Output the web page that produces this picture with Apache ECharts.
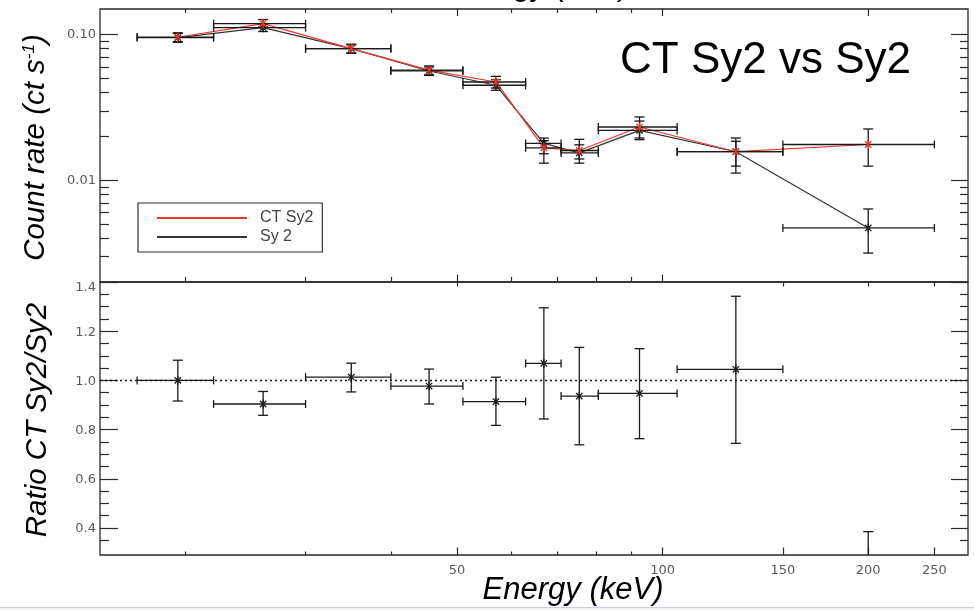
<!DOCTYPE html>
<html><head><meta charset="utf-8">
<script src="https://cdn.jsdelivr.net/npm/echarts@6/dist/echarts.min.js"></script>
<style>html,body{margin:0;padding:0;background:#fff}#c{width:974px;height:610px}</style>
</head><body><div id="c"></div>
<script>
// ---------------- data ----------------
const energy  = [19.5, 26, 35, 45.5, 57, 67, 75.5, 92.5, 128, 200];
const binLo   = [17, 22, 30, 40, 51, 63, 71, 80.5, 105, 150];
const binHi   = [22, 30, 40, 51, 63, 71, 80.5, 105, 150, 250];

const ctRate  = [0.0960, 0.119, 0.0802, 0.0570, 0.0473, 0.0167, 0.0160, 0.0232, 0.0157, 0.0176];
const ctLo    = [0.0895, 0.113, 0.0750, 0.0530, 0.0430, 0.0131, 0.0131, 0.0195, 0.0112, 0.0125];
const ctHi    = [0.1030, 0.127, 0.0860, 0.0610, 0.0517, 0.0195, 0.0191, 0.0272, 0.0195, 0.0225];

const sy2Rate = [0.0954, 0.1117, 0.0802, 0.0563, 0.0449, 0.0179, 0.0154, 0.0220, 0.0157, 0.0047];
const sy2Lo   = [0.0885, 0.105, 0.0745, 0.0525, 0.0415, 0.0152, 0.0140, 0.0190, 0.0125, 0.00316];
const sy2Hi   = [0.1020, 0.119, 0.0850, 0.0600, 0.0490, 0.0187, 0.0175, 0.0255, 0.0185, 0.00635];

const ratio   = [1.000, 0.904, 1.013, 0.977, 0.914, 1.069, 0.936, 0.947, 1.045, 0.20];
const ratioLo = [0.916, 0.858, 0.953, 0.904, 0.817, 0.843, 0.738, 0.763, 0.744, 0.02];
const ratioHi = [1.082, 0.955, 1.070, 1.046, 1.013, 1.295, 1.134, 1.129, 1.342, 0.385];
const unity = 1;

const xMin = 15, xMax = 280;
const xLabelTicks = [50, 100, 150, 200, 250];
const xMinorTicks = [20, 30, 40, 60, 70, 80, 90];
const xTopMajor = [50, 100, 200];
const xMidTicks = [50, 150, 200, 250];
const xUpMajor = [50, 100];

const rateMin = 0.002, rateMax = 0.15;
const rateLabels = [0.01, 0.1];
const rateMinor = [0.003, 0.004, 0.005, 0.006, 0.007, 0.008, 0.009, 0.02, 0.03, 0.04, 0.05, 0.06, 0.07, 0.08, 0.09];

const ratioMin = 0.29, ratioMax = 1.4;
const ratioLabels = [0.4, 0.6, 0.8, 1.0, 1.2, 1.4];
const ratioMinor = [0.35, 0.45, 0.5, 0.55, 0.65, 0.7, 0.75, 0.85, 0.9, 0.95, 1.05, 1.1, 1.15, 1.25, 1.3, 1.35];

const seriesNames = ['CT Sy2', 'Sy 2'];

// ---------------- helpers ----------------
const AX = '#2a2a2a';
const LBL = {color: '#5a5a5a', fontFamily: 'DejaVu Sans', fontSize: 13};

function xAx(grid, pos, ticks, len, extra) {
  return Object.assign({
    type: 'log', logBase: 10, gridIndex: grid, position: pos, min: xMin, max: xMax,
    axisLine: {show: false}, splitLine: {show: false},
    minorTick: {show: false}, minorSplitLine: {show: false},
    axisTick: {show: true, inside: true, length: len, customValues: ticks, lineStyle: {color: AX, width: 1.2}},
    axisLabel: {show: false}, axisPointer: {show: false}
  }, extra || {});
}
function yAx(grid, pos, type, min, max, ticks, len, extra) {
  const o = {
    type: type, gridIndex: grid, position: pos, min: min, max: max,
    axisLine: {show: false, onZero: false}, splitLine: {show: false},
    minorTick: {show: false}, minorSplitLine: {show: false},
    axisTick: {show: true, inside: true, length: len, customValues: ticks, lineStyle: {color: AX, width: 1.2}},
    axisLabel: {show: false}, axisPointer: {show: false}
  };
  if (type === 'log') o.logBase = 10;
  return Object.assign(o, extra || {});
}

function makeRender(starColor) {
  return function (params, api) {
    const x = api.value(0), xl = api.value(1), xh = api.value(2);
    const y = api.value(3), yl = api.value(4), yh = api.value(5);
    const cs = params.coordSys;
    const top = cs.y, bot = cs.y + cs.height;
    const p = api.coord([x, y]);
    const pl = api.coord([xl, y]), ph = api.coord([xh, y]);
    const pyl = api.coord([x, yl]), pyh = api.coord([x, yh]);
    const st = {stroke: '#1a1a1a', lineWidth: 1.3, fill: null};
    const ch = [];
    const L = (x1, y1, x2, y2, s) => ch.push({type: 'line', shape: {x1: x1, y1: y1, x2: x2, y2: y2}, style: s || st});
    const inY = v => v >= top - 0.5 && v <= bot + 0.5;
    const capY = 5, capX = 4;
    const yA = Math.max(top, Math.min(bot, pyh[1])), yB = Math.max(top, Math.min(bot, pyl[1]));
    if (yB > yA) L(p[0], yA, p[0], yB);
    if (inY(pyh[1])) L(p[0] - capY, pyh[1], p[0] + capY, pyh[1]);
    if (inY(pyl[1])) L(p[0] - capY, pyl[1], p[0] + capY, pyl[1]);
    if (inY(p[1])) {
      L(pl[0], p[1], ph[0], p[1]);
      L(pl[0], p[1] - capX, pl[0], p[1] + capX);
      L(ph[0], p[1] - capX, ph[0], p[1] + capX);
      const r = 4.5, d = r * 0.7071, s2 = {stroke: starColor, lineWidth: 1.3, fill: null};
      L(p[0] - d, p[1] - d, p[0] + d, p[1] + d, s2);
      L(p[0] - d, p[1] + d, p[0] + d, p[1] - d, s2);
      L(p[0], p[1] - r, p[0], p[1] + r, s2);
    }
    return {type: 'group', children: ch};
  };
}
const errData = (v, lo, hi) => energy.map((e, i) => [e, binLo[i], binHi[i], v[i], lo[i], hi[i]]);

const chart = echarts.init(document.getElementById('c'), null, {renderer: 'canvas'});
const base = {fontFamily: 'DejaVu Sans', fontSize: 13, color: '#5a5a5a'};

chart.setOption({
  animation: false,
  backgroundColor: '#fff',
  grid: [
    {left: 100, width: 868, top: 9, height: 273, show: true, borderColor: AX, borderWidth: 1.3, backgroundColor: 'transparent', containLabel: false, outerBoundsMode: 'none'},
    {left: 100, width: 868, top: 282, height: 273, show: true, borderColor: AX, borderWidth: 1.3, backgroundColor: 'transparent', containLabel: false, outerBoundsMode: 'none'}
  ],
  xAxis: [
    xAx(0, 'bottom', xMinorTicks, 5),
    xAx(0, 'bottom', xUpMajor, 7.5),
    xAx(0, 'top', xMinorTicks, 4),
    xAx(0, 'top', xTopMajor, 7),
    xAx(1, 'top', xMidTicks, 4.5),
    xAx(1, 'bottom', xMinorTicks, 3.5),
    xAx(1, 'bottom', xLabelTicks, 7.5, {
      axisLabel: {show: true, customValues: xLabelTicks, margin: 9, color: LBL.color, fontFamily: LBL.fontFamily, fontSize: 13,
        formatter: v => String(Math.round(v))}
    })
  ],
  yAxis: [
    yAx(0, 'left', 'log', rateMin, rateMax, rateLabels, 18, {
      axisLabel: {show: true, customValues: rateLabels, margin: 4, color: LBL.color, fontFamily: LBL.fontFamily, fontSize: 13,
        formatter: v => v.toFixed(2)}
    }),
    yAx(0, 'left', 'log', rateMin, rateMax, rateMinor, 9),
    yAx(0, 'right', 'log', rateMin, rateMax, rateLabels, 17),
    yAx(0, 'right', 'log', rateMin, rateMax, rateMinor, 8),
    yAx(1, 'left', 'value', ratioMin, ratioMax, ratioLabels, 18, {
      axisLabel: {show: true, customValues: ratioLabels, margin: 4,
        formatter: v => Math.abs(v - ratioMax) < 1e-9 ? '{t|' + v.toFixed(1) + '}' : '{n|' + v.toFixed(1) + '}',
        rich: {t: Object.assign({padding: [11, 0, 0, 0]}, base), n: Object.assign({padding: [2, 0, 0, 0]}, base)}}
    }),
    yAx(1, 'left', 'value', ratioMin, ratioMax, ratioMinor, 9),
    yAx(1, 'right', 'value', ratioMin, ratioMax, ratioLabels, 17),
    yAx(1, 'right', 'value', ratioMin, ratioMax, ratioMinor, 8)
  ],
  legend: {
    data: seriesNames, orient: 'vertical', left: 138, top: 203,
    itemWidth: 90, itemHeight: 2, itemGap: 3, icon: 'rect',
    padding: [7, 9, 7, 19], borderColor: '#333', borderWidth: 1.2, borderRadius: 0,
    backgroundColor: 'transparent', selectedMode: false,
    textStyle: {fontFamily: 'Liberation Sans', fontSize: 16, color: '#444', lineHeight: 16, padding: [0, 0, 0, 8]}
  },
  series: [
    {name: seriesNames[1], type: 'line', xAxisIndex: 0, yAxisIndex: 0, symbol: 'none', z: 2,
      data: energy.map((e, i) => [e, sy2Rate[i]]),
      lineStyle: {color: '#333', width: 1.2}, itemStyle: {color: '#333'}},
    {name: seriesNames[0], type: 'line', xAxisIndex: 0, yAxisIndex: 0, symbol: 'none', z: 3,
      data: energy.map((e, i) => [e, ctRate[i]]),
      lineStyle: {color: '#f0352c', width: 1.2}, itemStyle: {color: '#f0352c'}},
    {name: 'Sy 2 errors', type: 'custom', xAxisIndex: 0, yAxisIndex: 0, z: 4,
      renderItem: makeRender('#1a1a1a'), encode: {x: [0, 1, 2], y: [3, 4, 5]},
      data: errData(sy2Rate, sy2Lo, sy2Hi)},
    {name: 'CT Sy2 errors', type: 'custom', xAxisIndex: 0, yAxisIndex: 0, z: 5,
      renderItem: makeRender('#f0352c'), encode: {x: [0, 1, 2], y: [3, 4, 5]},
      data: errData(ctRate, ctLo, ctHi)},
    {name: 'ratio errors', type: 'custom', xAxisIndex: 6, yAxisIndex: 4, z: 5,
      renderItem: makeRender('#1a1a1a'), encode: {x: [0, 1, 2], y: [3, 4, 5]},
      data: errData(ratio, ratioLo, ratioHi)},
    {name: 'unity', type: 'scatter', xAxisIndex: 6, yAxisIndex: 4, symbolSize: 0, z: 1,
      data: energy.map((e, i) => [e, ratio[i]]), itemStyle: {opacity: 0},
      markLine: {silent: true, symbol: 'none', animation: false, label: {show: false},
        lineStyle: {type: [2, 3], color: '#111', width: 1.3},
        data: [{yAxis: unity}]}}
  ],
  graphic: [
    {type: 'text', x: 620, y: 60.5, silent: true,
      style: {text: 'CT Sy2 vs Sy2', font: '44px "Liberation Sans"', fill: '#000', align: 'left', verticalAlign: 'middle'}},
    {type: 'text', x: 573, y: 590.5, silent: true,
      style: {text: 'Energy (keV)', font: 'italic 31px "Liberation Sans"', fill: '#000', align: 'center', verticalAlign: 'middle'}},
    {type: 'text', x: 630, y: -14, silent: true,
      style: {text: 'Energy (keV)', font: 'italic 31px "Liberation Sans"', fill: '#000', align: 'right', verticalAlign: 'middle'}},
    {type: 'text', x: 35.5, y: 147.5, rotation: Math.PI / 2, silent: true,
      style: {text: '{a|Count rate (ct s}{b|-1}{a|)}', align: 'center', verticalAlign: 'middle',
        rich: {
          a: {font: 'italic 29.5px "Liberation Sans"', fontSize: 29.5, fontStyle: 'italic', fontFamily: 'Liberation Sans', fill: '#000'},
          b: {font: 'italic 17px "Liberation Sans"', fontSize: 17, fontStyle: 'italic', fontFamily: 'Liberation Sans', fill: '#000', verticalAlign: 'top'}
        }}},
    {type: 'text', x: 38, y: 420, rotation: Math.PI / 2, silent: true,
      style: {text: 'Ratio CT Sy2/Sy2', font: 'italic 29.5px "Liberation Sans"', fill: '#000', align: 'center', verticalAlign: 'middle'}},
    {type: 'rect', silent: true, shape: {x: 0, y: 607, width: 974, height: 3}, style: {fill: '#f1f3f7'}},
    {type: 'line', silent: true, shape: {x1: 0, y1: 607.5, x2: 974, y2: 607.5}, style: {stroke: '#c9d2e3', lineWidth: 1}}
  ]
});
</script>
</body></html>
